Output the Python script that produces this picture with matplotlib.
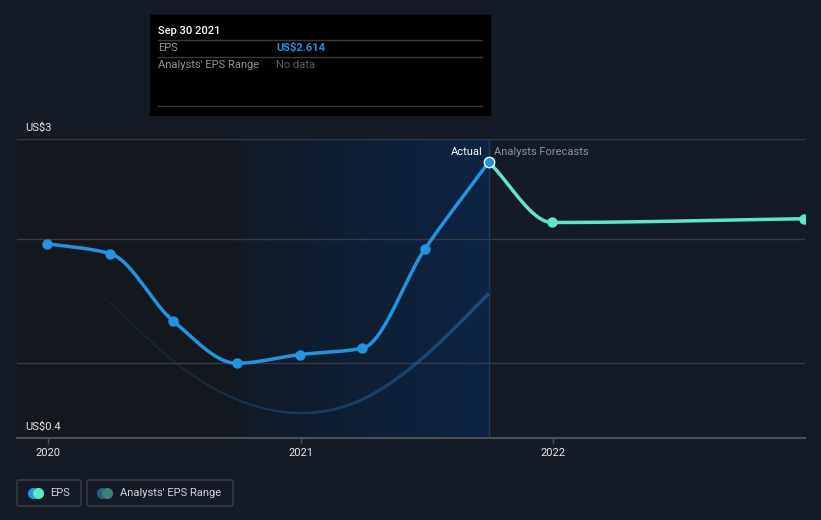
import numpy as np
import pandas as pd
import matplotlib
matplotlib.use("Agg")
from matplotlib import pyplot
import matplotlib.dates as mdates
from matplotlib.collections import LineCollection
from matplotlib.patches import FancyBboxPatch, Rectangle

pyplot.rcParams['font.family'] = ['Roboto', 'DejaVu Sans']

# actual EPS (quarter ends)
eps_dates = ["2019-12-31", "2020-03-31", "2020-06-30", "2020-09-30", "2020-12-31",
             "2021-03-31", "2021-06-30", "2021-09-30"]
eps_values = [1.96, 1.88, 1.34, 1.00, 1.07, 1.12, 1.92, 2.614]

# analysts forecasts
fc_dates = ["2021-09-30", "2021-12-31", "2022-12-31"]
fc_values = [2.614, 2.13, 2.16]

# faint past-forecast line
past_dates = ["2019-12-31", "2020-03-31", "2020-06-30", "2020-09-30", "2020-12-31",
              "2021-03-31", "2021-06-30", "2021-09-30"]
past_values = [1.89, 1.48, 1.02, 0.71, 0.60, 0.71, 1.06, 1.56]

year_ticks = ["2020", "2021", "2022"]
gridlines = [1.0, 2.0, 2.8]

BG = '#151b26'
BLUE = '#2394df'
TEAL = '#5ee6c9'


def monotone(x, y, n=40):
    """monotone cubic (Fritsch-Carlson) curve through the points, for drawing"""
    x = np.asarray(x, float)
    y = np.asarray(y, float)
    h = np.diff(x)
    d = np.diff(y) / h
    m = np.zeros_like(y)
    m[0], m[-1] = d[0], d[-1]
    for i in range(1, len(y) - 1):
        if d[i - 1] * d[i] <= 0:
            m[i] = 0
        else:
            w1 = 2 * h[i] + h[i - 1]
            w2 = h[i] + 2 * h[i - 1]
            m[i] = (w1 + w2) / (w1 / d[i - 1] + w2 / d[i])
    xs, ys = [], []
    for i in range(len(h)):
        t = np.linspace(0, 1, n)
        h00 = 2 * t**3 - 3 * t**2 + 1
        h10 = t**3 - 2 * t**2 + t
        h01 = -2 * t**3 + 3 * t**2
        h11 = t**3 - t**2
        xs.append(x[i] + t * h[i])
        ys.append(h00 * y[i] + h10 * h[i] * m[i] + h01 * y[i + 1] + h11 * h[i] * m[i + 1])
    return np.concatenate(xs), np.concatenate(ys)


def natural(x, y, n=40):
    """natural cubic spline through the points, for drawing"""
    x = np.asarray(x, float)
    y = np.asarray(y, float)
    k = len(x)
    h = np.diff(x)
    A = np.zeros((k, k))
    b = np.zeros(k)
    A[0, 0] = A[-1, -1] = 1
    for i in range(1, k - 1):
        A[i, i - 1] = h[i - 1]
        A[i, i] = 2 * (h[i - 1] + h[i])
        A[i, i + 1] = h[i]
        b[i] = 3 * ((y[i + 1] - y[i]) / h[i] - (y[i] - y[i - 1]) / h[i - 1])
    c = np.linalg.solve(A, b)
    xs, ys = [], []
    for i in range(k - 1):
        t = np.linspace(0, h[i], n)
        bi = (y[i + 1] - y[i]) / h[i] - h[i] * (2 * c[i] + c[i + 1]) / 3
        di = (c[i + 1] - c[i]) / (3 * h[i])
        xs.append(x[i] + t)
        ys.append(y[i] + bi * t + c[i] * t**2 + di * t**3)
    return np.concatenate(xs), np.concatenate(ys)


def num(dates):
    return mdates.date2num(pd.to_datetime(dates))


fig = pyplot.figure(figsize=(8.21, 5.2), dpi=100)
fig.patch.set_facecolor(BG)

W, H = 821.0, 520.0
ax = fig.add_axes([17 / W, 1 - 438 / H, (805 - 17) / W, (438 - 139) / H])
ax.set_facecolor(BG)
x0 = mdates.date2num(pd.Timestamp("2019-11-17"))
x1 = mdates.date2num(pd.Timestamp("2023-01-01"))
ax.set_xlim(x0, x1)
ax.set_ylim(0.4, 2.8)
for s in ax.spines.values():
    s.set_visible(False)
ax.set_yticks([])
mixed = matplotlib.transforms.blended_transform_factory(ax.transAxes, ax.transData)

# shaded regions
xa = num(["2020-09-30"])[0]
xb = num(["2021-09-30"])[0]
ax.axvspan(x0, xa, color='#13171e', zorder=0, lw=0)
grad = np.linspace(0, 1, 256).reshape(1, -1)
cmap = matplotlib.colors.LinearSegmentedColormap.from_list('g', ['#111a27', '#0c2444'])
ax.imshow(grad, extent=[xa, xb, 0.4, 2.8], aspect='auto', cmap=cmap, zorder=0.5)
ax.axvline(xb, color='#1c3a60', lw=1, zorder=1)

for g in gridlines:
    ax.axhline(g, color='#363b45', lw=1, zorder=1)
ax.axhline(0.4, color='#4a4f58', lw=1.5, zorder=1, clip_on=False)

# faint line, fading in from the left
px, py = natural(num(past_dates), past_values)
pts = np.array([px, py]).T.reshape(-1, 1, 2)
segs = np.concatenate([pts[:-1], pts[1:]], axis=1)
alphas = np.linspace(0.1, 0.8, len(segs))
cols = [(0.13, 0.36, 0.58, a) for a in alphas]
ax.add_collection(LineCollection(segs, colors=cols, linewidths=np.linspace(0.6, 2.6, len(segs)), zorder=2))

# EPS line
ex, ey = monotone(num(eps_dates), eps_values)
ax.plot(ex, ey, color=BLUE, lw=2.5, zorder=3, solid_capstyle='round')
ax.plot(num(eps_dates)[:-1], eps_values[:-1], 'o', color=BLUE, ms=6.5, zorder=4)

fx, fy = monotone(num(fc_dates), fc_values)
ax.plot(fx, fy, color=TEAL, lw=2.5, zorder=3, solid_capstyle='round')
ax.plot(num(fc_dates)[1:], fc_values[1:], 'o', color=TEAL, ms=6.5, zorder=4)
ax.plot(num(eps_dates)[-1:], eps_values[-1:], 'o', color=BLUE, ms=7.5, mec='white', mew=1, zorder=5)

ax.set_xticks(num([y + "-01-01" for y in year_ticks]))
ax.set_xticklabels(year_ticks)
ax.tick_params(axis='x', colors='#4a4f58', length=4, width=1, pad=3, labelcolor='#e8e8e8', labelsize=8)

ax.text(0.01, 2.8 + 0.09, "US$3", color='#e8e8e8', fontsize=8, va='center', transform=mixed)
ax.text(0.01, 0.4 + 0.09, "US$0.4", color='#e8e8e8', fontsize=8, va='center', transform=mixed)
ax.text(xb - 9, 2.614 + 0.085, "Actual", color='white', fontsize=8, ha='right', va='center')
ax.text(xb + 7, 2.614 + 0.085, "Analysts Forecasts", color='#8d939b', fontsize=8, ha='left', va='center')

# overlay: tooltip and legend
ov = fig.add_axes([0, 0, 1, 1], zorder=10)
ov.set_xlim(0, W)
ov.set_ylim(H, 0)
ov.axis('off')
ov.add_patch(Rectangle((150, 15), 340, 100, color='black'))
ov.text(158, 31, "Sep 30 2021", color='white', fontsize=8, va='center', fontweight='medium')
ov.plot([158, 482], [40, 40], color='#3a3a3a', lw=1)
ov.text(158, 48, "EPS", color='#8d939b', fontsize=8, va='center')
ov.text(276, 48, "US$2.614", color=BLUE, fontsize=8, va='center', fontweight='bold')
ov.plot([158, 482], [57, 57], color='#3a3a3a', lw=1)
ov.text(158, 65, "Analysts' EPS Range", color='#8d939b', fontsize=8, va='center')
ov.text(276, 65, "No data", color='#5c6066', fontsize=8, va='center')
ov.plot([158, 482], [106, 106], color='#3a3a3a', lw=1)

ov.add_patch(FancyBboxPatch((17, 480), 64, 26, boxstyle="round,pad=0,rounding_size=2",
                            fc='none', ec='#3b404a', lw=1))
ov.add_patch(FancyBboxPatch((87, 480), 146, 26, boxstyle="round,pad=0,rounding_size=2",
                            fc='none', ec='#3b404a', lw=1))
ov.plot([33], [493], 'o', color=BLUE, ms=7)
ov.plot([38], [493], 'o', color=TEAL, ms=7)
ov.text(50, 493, "EPS", color='#d0d3d8', fontsize=8, va='center')
ov.plot([102], [493], 'o', color='#255d8a', ms=7)
ov.plot([107], [493], 'o', color='#3c8079', ms=7)
ov.text(120, 493, "Analysts' EPS Range", color='#d0d3d8', fontsize=8, va='center')

fig.savefig("out.png", dpi=100, facecolor=BG)
